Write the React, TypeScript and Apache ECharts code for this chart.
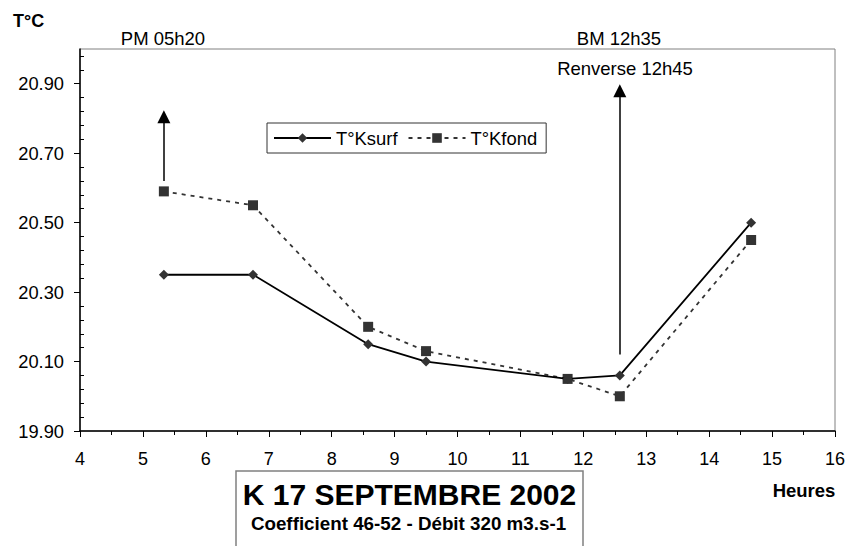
import React, { useEffect, useRef } from "react";
import * as echarts from "echarts";

// Data (hours decimal, temperatures °C)
const hours = [5.333, 6.75, 8.58, 9.5, 11.75, 12.58, 14.667];
const tSurf = [20.35, 20.35, 20.15, 20.1, 20.05, 20.06, 20.5];
const tFond = [20.59, 20.55, 20.2, 20.13, 20.05, 20.0, 20.45];

const yMajorTicks = [19.9, 20.1, 20.3, 20.5, 20.7, 20.9];
const yMinorTicks = [
  19.94, 19.98, 20.02, 20.06, 20.14, 20.18, 20.22, 20.26, 20.34, 20.38, 20.42,
  20.46, 20.54, 20.58, 20.62, 20.66, 20.74, 20.78, 20.82, 20.86, 20.94, 20.98,
];

// Arrows: [start, end] in data coordinates
const arrowPM = [
  [5.333, 20.62],
  [5.333, 20.805],
];
const arrowBM = [
  [12.58, 20.12],
  [12.58, 20.88],
];

const FONT = "'Liberation Sans', Arial, Helvetica, sans-serif";

export default function App() {
  const ref = useRef<HTMLDivElement>(null);

  useEffect(() => {
    document.body.style.margin = "0";
    if (!ref.current) return;
    const chart = echarts.init(ref.current, null, { renderer: "svg" });

    const surfData = hours.map((h, i) => [h, tSurf[i]]);
    const fondData = hours.map((h, i) => [h, tFond[i]]);

    const arrowLine = (a: number[][]) => [
      { coord: a[0], symbol: "none" },
      { coord: a[1], symbol: "triangle" },
    ];

    chart.setOption({
      animation: false,
      backgroundColor: "#fff",
      textStyle: { fontFamily: FONT },
      grid: {
        left: 80,
        top: 49,
        right: 22,
        bottom: 115,
        show: true,
        borderColor: "#808080",
        borderWidth: 1,
        backgroundColor: "transparent",
      },
      legend: {
        left: 267,
        top: 123,
        itemWidth: 57,
        itemHeight: 12,
        itemGap: 10,
        padding: [6, 9, 6, 6],
        borderColor: "#333",
        borderWidth: 1,
        textStyle: { fontSize: 18.4, color: "#000", fontFamily: FONT },
        data: ["T°Ksurf", "T°Kfond"],
      },
      xAxis: {
        type: "value",
        min: 4,
        max: 16,
        interval: 1,
        axisLine: { show: true, onZero: false, lineStyle: { color: "#000", width: 1.5 } },
        axisTick: { show: true, length: 6, lineStyle: { color: "#000", width: 1 } },
        minorTick: { show: true, splitNumber: 2, length: 4, lineStyle: { color: "#000", width: 1 } },
        axisLabel: { fontSize: 18, color: "#000", margin: 19, fontFamily: FONT },
        splitLine: { show: false },
        minorSplitLine: { show: false },
      },
      yAxis: [
        {
          type: "value",
          min: 19.9,
          max: 21.0,
          interval: 0.2,
          axisLine: { show: true, onZero: false, lineStyle: { color: "#000", width: 1.5 } },
          axisTick: {
            show: true,
            length: 6,
            customValues: yMajorTicks,
            lineStyle: { color: "#000", width: 1 },
          },
          axisLabel: {
            customValues: yMajorTicks,
            fontSize: 18.3,
            color: "#000",
            margin: 16,
            fontFamily: FONT,
            formatter: (v: number) => v.toFixed(2),
          },
          splitLine: { show: false },
        },
        {
          type: "value",
          min: 19.9,
          max: 21.0,
          position: "left",
          axisLine: { show: false },
          axisTick: {
            show: true,
            inside: true,
            length: 4,
            customValues: yMinorTicks,
            lineStyle: { color: "#000", width: 1 },
          },
          axisLabel: { show: false },
          splitLine: { show: false },
        },
      ],
      series: [
        {
          name: "T°Ksurf",
          type: "line",
          data: surfData,
          symbol: "diamond",
          symbolSize: 10,
          itemStyle: { color: "#333" },
          lineStyle: { color: "#000", width: 1.8, type: "solid" },
          z: 3,
          markLine: {
            silent: true,
            symbolSize: [13, 13],
            label: { show: false },
            lineStyle: { color: "#000", width: 1.5, type: "solid" },
            itemStyle: { color: "#000" },
            data: [arrowLine(arrowPM), arrowLine(arrowBM)],
          },
        },
        {
          name: "T°Kfond",
          type: "line",
          data: fondData,
          symbol: "rect",
          symbolSize: 10,
          itemStyle: { color: "#333" },
          lineStyle: { color: "#333", width: 1.8, type: [4, 5] },
          z: 2,
        },
      ],
      graphic: [
        {
          type: "text",
          left: 13,
          top: 12,
          style: { text: "T°C", font: `bold 18px ${FONT}`, fill: "#000" },
        },
        {
          type: "text",
          x: 163,
          y: 38,
          style: {
            text: "PM 05h20",
            font: `18.5px ${FONT}`,
            fill: "#000",
            align: "center",
            verticalAlign: "middle",
          },
        },
        {
          type: "text",
          x: 619,
          y: 38,
          style: {
            text: "BM 12h35",
            font: `18.5px ${FONT}`,
            fill: "#000",
            align: "center",
            verticalAlign: "middle",
          },
        },
        {
          type: "text",
          x: 625,
          y: 68,
          style: {
            text: "Renverse 12h45",
            font: `18.5px ${FONT}`,
            fill: "#000",
            align: "center",
            verticalAlign: "middle",
          },
        },
        {
          type: "text",
          x: 804,
          y: 490,
          style: {
            text: "Heures",
            font: `bold 18.5px ${FONT}`,
            fill: "#000",
            align: "center",
            verticalAlign: "middle",
          },
        },
        {
          type: "rect",
          shape: { x: 236, y: 471, width: 347, height: 90 },
          style: { fill: "#fff", stroke: "#808080", lineWidth: 1.5 },
        },
        {
          type: "text",
          x: 409.5,
          y: 494,
          style: {
            text: "K 17 SEPTEMBRE 2002",
            font: `bold 30px ${FONT}`,
            fill: "#000",
            align: "center",
            verticalAlign: "middle",
          },
        },
        {
          type: "text",
          x: 408.5,
          y: 523,
          style: {
            text: "Coefficient 46-52 - Débit 320 m3.s-1",
            font: `bold 18.8px ${FONT}`,
            fill: "#000",
            align: "center",
            verticalAlign: "middle",
          },
        },
      ],
    });

    return () => chart.dispose();
  }, []);

  return <div ref={ref} style={{ width: 857, height: 546 }} />;
}
